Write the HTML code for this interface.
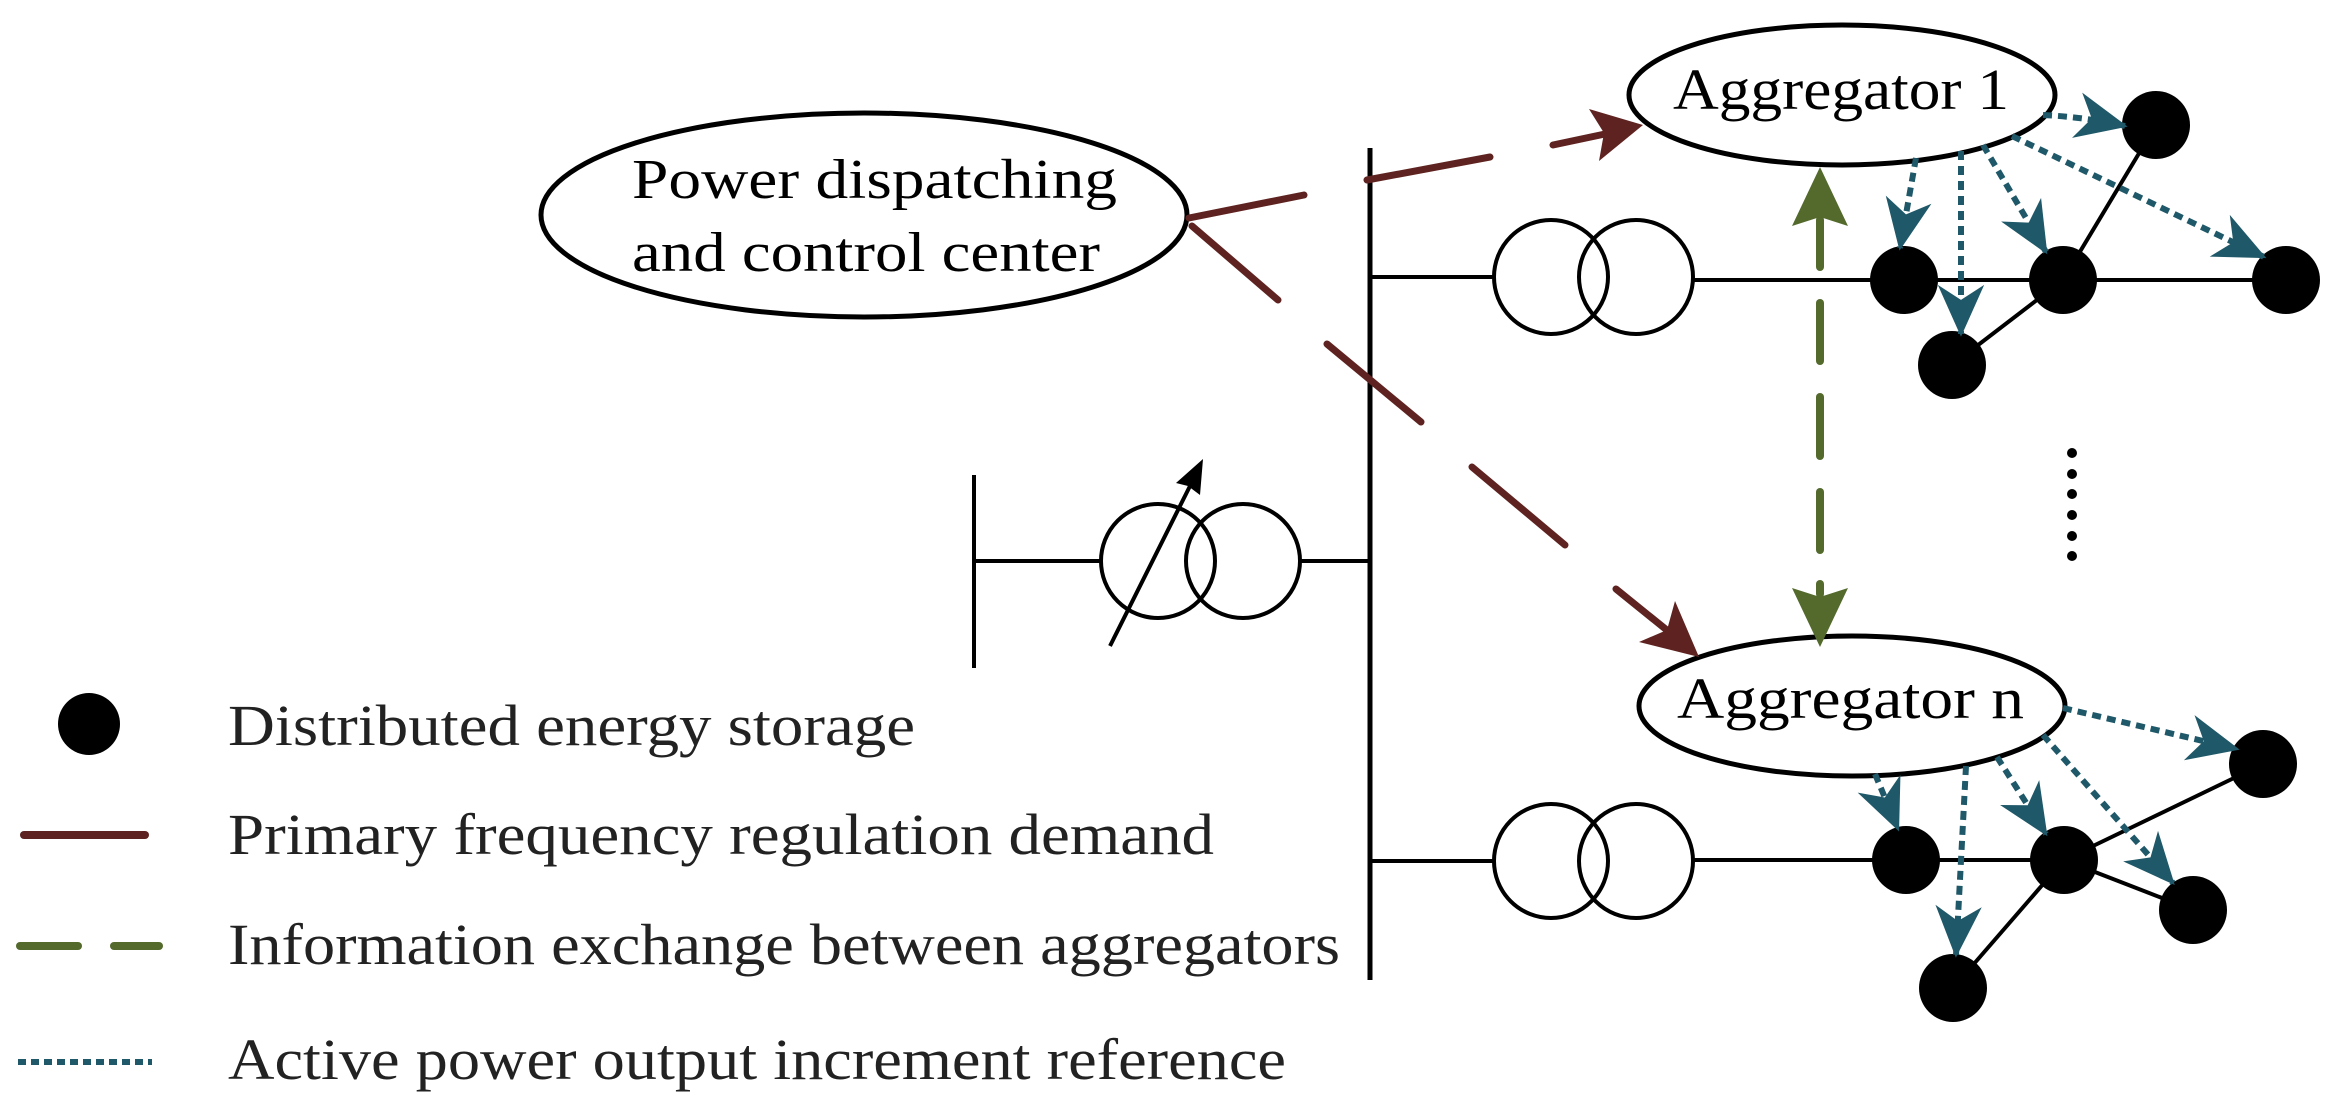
<!DOCTYPE html>
<html><head><meta charset="utf-8"><style>
html,body{margin:0;padding:0;background:#fff}
svg{display:block}
text{font-family:"Liberation Serif",serif}
</style></head><body>
<svg width="2338" height="1107" viewBox="0 0 2338 1107" xmlns="http://www.w3.org/2000/svg">
<defs>
<marker id="t" markerUnits="userSpaceOnUse" markerWidth="60" markerHeight="60" viewBox="-40 -20 44 40" refX="0" refY="0" orient="auto">
<path d="M2,0 L-36,-17 L-25,0 L-36,17 Z" fill="#1f5868"/>
</marker>
</defs>
<g stroke="#000" fill="none" stroke-width="4">
<line x1="1370" y1="148" x2="1370" y2="980" stroke-width="5"/>
<line x1="974" y1="475" x2="974" y2="668"/>
<line x1="974" y1="561" x2="1101" y2="561"/>
<circle cx="1158" cy="561" r="57"/>
<circle cx="1243" cy="561" r="57"/>
<line x1="1300" y1="561" x2="1370" y2="561"/>
<line x1="1110" y1="646" x2="1191" y2="484"/>
<line x1="1370" y1="277" x2="1494" y2="277"/>
<circle cx="1551" cy="277" r="57"/>
<circle cx="1636" cy="277" r="57"/>
<line x1="1693" y1="280" x2="2286" y2="280"/>
<line x1="2063" y1="280" x2="2156" y2="125"/>
<line x1="2063" y1="280" x2="1952" y2="365"/>
<line x1="1370" y1="861" x2="1494" y2="861"/>
<circle cx="1551" cy="861" r="57"/>
<circle cx="1636" cy="861" r="57"/>
<line x1="1693" y1="860" x2="2064" y2="860"/>
<line x1="2064" y1="860" x2="2263" y2="764"/>
<line x1="2064" y1="860" x2="2193" y2="910"/>
<line x1="2064" y1="860" x2="1953" y2="988"/>
</g>
<polygon points="1203,459 1200,495 1188,486 1176,483" fill="#000"/>
<g fill="#000">
<circle cx="1904" cy="280" r="34"/><circle cx="2063" cy="280" r="34"/><circle cx="2286" cy="280" r="34"/>
<circle cx="2156" cy="125" r="34"/><circle cx="1952" cy="365" r="34"/>
<circle cx="1906" cy="860" r="34"/><circle cx="2064" cy="860" r="34"/><circle cx="2263" cy="764" r="34"/>
<circle cx="2193" cy="910" r="34"/><circle cx="1953" cy="988" r="34"/>
<circle cx="2072" cy="453" r="5"/><circle cx="2072" cy="474" r="5"/><circle cx="2072" cy="494" r="5"/>
<circle cx="2072" cy="515" r="5"/><circle cx="2072" cy="536" r="5"/><circle cx="2072" cy="556" r="5"/>
<circle cx="89" cy="724" r="31"/>
</g>
<g fill="#fff" stroke="#000" stroke-width="5">
<ellipse cx="864" cy="215" rx="323" ry="102"/>
<ellipse cx="1842" cy="95" rx="213" ry="70"/>
<ellipse cx="1852" cy="706" rx="213" ry="70"/>
</g>
<text x="632" y="198" font-size="56" textLength="485" lengthAdjust="spacingAndGlyphs">Power dispatching</text>
<text x="632" y="271" font-size="56" textLength="468" lengthAdjust="spacingAndGlyphs">and control center</text>
<text x="1673" y="109" font-size="58" textLength="336" lengthAdjust="spacingAndGlyphs">Aggregator 1</text>
<text x="1677" y="718" font-size="58" textLength="347" lengthAdjust="spacingAndGlyphs">Aggregator n</text>
<g stroke="#5e2320" stroke-width="7" stroke-linecap="round" fill="none">
<line x1="1189" y1="218" x2="1304" y2="195"/>
<line x1="1367" y1="180" x2="1490" y2="157"/>
<line x1="1553" y1="145" x2="1605" y2="134"/>
<line x1="1192" y1="226" x2="1278" y2="300"/>
<line x1="1327" y1="344" x2="1421" y2="422"/>
<line x1="1472" y1="467" x2="1565" y2="545"/>
<line x1="1616" y1="589" x2="1668" y2="631"/>
</g>
<polygon points="1643,125 1599,161 1604,133 1589,109" fill="#5e2320"/>
<polygon points="1699,657 1639,642 1667,630 1675,601" fill="#5e2320"/>
<g stroke="#536a2c" stroke-width="8" stroke-linecap="round">
<line x1="1820" y1="220" x2="1820" y2="267"/>
<line x1="1820" y1="303" x2="1820" y2="361"/>
<line x1="1820" y1="397" x2="1820" y2="456"/>
<line x1="1820" y1="492" x2="1820" y2="550"/>
<line x1="1820" y1="584" x2="1820" y2="594"/>
</g>
<polygon points="1820,167 1848,226 1820,217 1792,226" fill="#536a2c"/>
<polygon points="1820,647 1848,588 1820,597 1792,588" fill="#536a2c"/>
<g stroke="#1f5868" stroke-width="6" stroke-dasharray="9 6" fill="none" marker-end="url(#t)">
<path d="M2043,115 Q2085,117 2125,126"/>
<line x1="2012" y1="136" x2="2264" y2="257"/>
<line x1="1983" y1="145" x2="2046" y2="252"/>
<line x1="1961" y1="151" x2="1961" y2="334"/>
<line x1="1916" y1="158" x2="1900" y2="248"/>
<line x1="2063" y1="708" x2="2237" y2="749"/>
<line x1="2043" y1="735" x2="2173" y2="883"/>
<line x1="1997" y1="757" x2="2046" y2="834"/>
<line x1="1966" y1="766" x2="1956" y2="955"/>
<line x1="1875" y1="774" x2="1898" y2="829"/>
</g>
<line x1="24" y1="835" x2="145" y2="835" stroke="#5e2320" stroke-width="8" stroke-linecap="round"/>
<line x1="20" y1="946" x2="78" y2="946" stroke="#536a2c" stroke-width="8" stroke-linecap="round"/>
<line x1="114" y1="946" x2="159" y2="946" stroke="#536a2c" stroke-width="8" stroke-linecap="round"/>
<line x1="18" y1="1062" x2="152" y2="1062" stroke="#1f5868" stroke-width="6" stroke-dasharray="8 5"/>
<g fill="#222" font-size="58">
<text x="228" y="745" textLength="687" lengthAdjust="spacingAndGlyphs">Distributed energy storage</text>
<text x="228" y="854" textLength="986" lengthAdjust="spacingAndGlyphs">Primary frequency regulation demand</text>
<text x="228" y="964" textLength="1112" lengthAdjust="spacingAndGlyphs">Information exchange between aggregators</text>
<text x="228" y="1079" textLength="1058" lengthAdjust="spacingAndGlyphs">Active power output increment reference</text>
</g>
</svg>
</body></html>
